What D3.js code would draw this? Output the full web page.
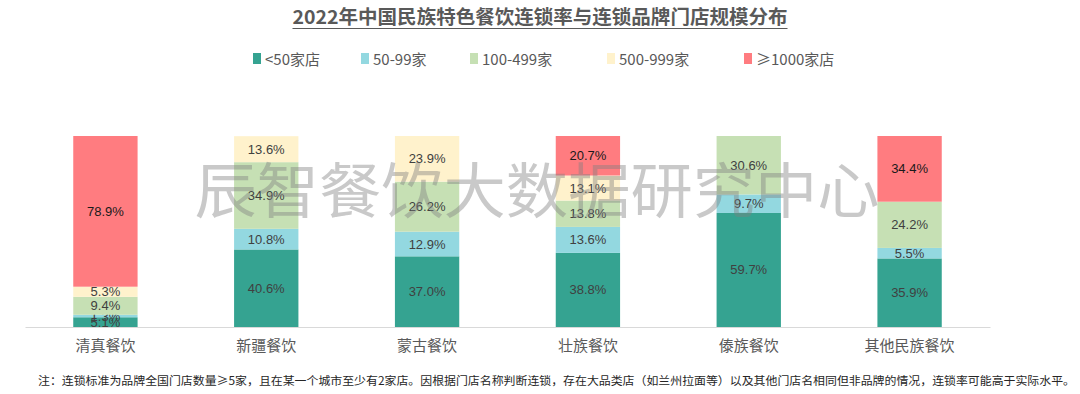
<!DOCTYPE html>
<html>
<head>
<meta charset="utf-8">
<script src="https://cdn.jsdelivr.net/npm/d3@7"></script>
<style>
  body { margin: 0; background: #fff; }
  svg { display: block; font-family: "Noto Sans CJK SC", "Noto Sans", sans-serif; }
</style>
</head>
<body>
<div id="chart"></div>
<script>
// data
const categories = ["清真餐饮", "新疆餐饮", "蒙古餐饮", "壮族餐饮", "傣族餐饮", "其他民族餐饮"];
const seriesNames = ["<50家店", "50-99家", "100-499家", "500-999家", "≥1000家店"];
const lt50 = [5.1, 40.6, 37.0, 38.8, 59.7, 35.9];
const s50to99 = [1.3, 10.8, 12.9, 13.6, 9.7, 5.5];
const s100to499 = [9.4, 34.9, 26.2, 13.8, 30.6, 24.2];
const s500to999 = [5.3, 13.6, 23.9, 13.1, 0, 0];
const ge1000 = [78.9, 0, 0, 20.7, 0, 34.4];
const colors = ["#35a391", "#93d8e0", "#c6e0b4", "#fff2cc", "#ff7c80"];

const title = "2022年中国民族特色餐饮连锁率与连锁品牌门店规模分布";
const watermark = "辰智餐饮大数据研究中心";
const note = "注：连锁标准为品牌全国门店数量≥5家，且在某一个城市至少有2家店。因根据门店名称判断连锁，存在大品类店（如兰州拉面等）以及其他门店名相同但非品牌的情况，连锁率可能高于实际水平。";

const W = 1080, H = 394;
const margin = { top: 136, left: 25, right: 90, bottom: 67 };

const table = categories.map((c, i) => ({
  cat: c,
  [seriesNames[0]]: lt50[i],
  [seriesNames[1]]: s50to99[i],
  [seriesNames[2]]: s100to499[i],
  [seriesNames[3]]: s500to999[i],
  [seriesNames[4]]: ge1000[i]
}));

const stacked = d3.stack().keys(seriesNames)(table);

const x = d3.scaleBand()
  .domain(categories)
  .range([margin.left, W - margin.right])
  .paddingInner(0.6)
  .paddingOuter(0.3);

const y = d3.scaleLinear()
  .domain([0, 100])
  .range([H - margin.bottom, margin.top]);

const color = d3.scaleOrdinal().domain(seriesNames).range(colors);

const svg = d3.select("#chart").append("svg")
  .attr("width", W)
  .attr("height", H);

// title with underline
const t = svg.append("text")
  .attr("x", W / 2)
  .attr("y", 24)
  .attr("text-anchor", "middle")
  .attr("font-size", 19)
  .attr("font-weight", "bold")
  .attr("fill", "#595959")
  .attr("textLength", 495)
  .attr("lengthAdjust", "spacingAndGlyphs")
  .text(title);
const tw = 495;
svg.append("line")
  .attr("x1", W / 2 - tw / 2).attr("x2", W / 2 + tw / 2)
  .attr("y1", 28.5).attr("y2", 28.5)
  .attr("stroke", "#595959").attr("stroke-width", 1.2);

// legend
const legendX = [253, 361, 470, 607, 744];
const legend = svg.append("g")
  .selectAll("g")
  .data(seriesNames)
  .join("g")
  .attr("transform", (d, i) => `translate(${legendX[i]},59)`);
legend.append("rect")
  .attr("x", 0).attr("y", -6)
  .attr("width", 8).attr("height", 11)
  .attr("fill", d => color(d));
legend.append("text")
  .attr("x", 12).attr("y", 5.5)
  .attr("font-size", 15)
  .attr("fill", "#595959")
  .text(d => d);

// bars
const groups = svg.append("g")
  .selectAll("g")
  .data(stacked)
  .join("g")
  .attr("fill", d => color(d.key));

groups.selectAll("rect")
  .data(d => d.map(v => ({ key: d.key, v })))
  .join("rect")
  .attr("x", d => x(d.v.data.cat))
  .attr("width", x.bandwidth())
  .attr("y", d => y(d.v[1]))
  .attr("height", d => y(d.v[0]) - y(d.v[1]));

// axis line + category labels
const axis = svg.append("g")
  .attr("transform", `translate(0,${H - margin.bottom})`)
  .call(d3.axisBottom(x).tickSize(0).tickPadding(13));
axis.select(".domain").attr("stroke", "#d9d9d9");
axis.selectAll("text")
  .attr("font-size", 15)
  .attr("fill", "#595959")
  .attr("font-family", "Noto Sans CJK SC");

// watermark
svg.append("text")
  .attr("x", 537)
  .attr("y", 213)
  .attr("text-anchor", "middle")
  .attr("font-size", 60)
  .attr("fill", "#808080")
  .attr("opacity", 0.42)
  .attr("textLength", 685)
  .attr("lengthAdjust", "spacingAndGlyphs")
  .text(watermark);

// value labels
groups.selectAll("text")
  .data(d => d.map(v => ({ key: d.key, v })).filter(d => d.v[1] - d.v[0] > 0))
  .join("text")
  .attr("x", d => x(d.v.data.cat) + x.bandwidth() / 2)
  .attr("y", d => (y(d.v[0]) + y(d.v[1])) / 2 + 4.5)
  .attr("text-anchor", "middle")
  .attr("font-family", "Liberation Sans, Arial, sans-serif")
  .attr("font-size", 13)
  .attr("fill", d => d.key === "≥1000家店" ? "#1a1a1a" : "#404040")
  .text(d => (d.v[1] - d.v[0]).toFixed(1) + "%");

// note
svg.append("text")
  .attr("x", 38)
  .attr("y", 385)
  .attr("font-size", 11.5)
  .attr("fill", "#262626")
  .attr("textLength", 1037)
  .attr("lengthAdjust", "spacingAndGlyphs")
  .text(note);
</script>
</body>
</html>
